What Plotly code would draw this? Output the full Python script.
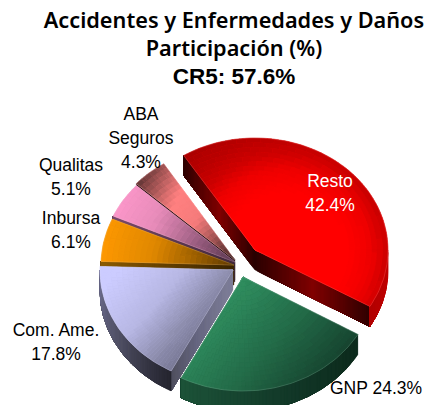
import math
import plotly.graph_objects as go

CATEGORIES = ["Resto", "GNP", "Com. Ame.", "Inbursa", "Qualitas", "ABA Seguros"]
SHARES = [42.4, 24.3, 17.8, 6.1, 5.1, 4.3]
TITLE_LINES = ["Accidentes y Enfermedades y Daños", "Participación (%)"]
CR5 = 57.6

# view geometry of the tilted pie
START = -32.4
RX, RY, DEPTH = 133, 114, 20
APEX = {"Resto": (255, 250), "GNP": (243, 277), "Com. Ame.": (233, 270),
        "Inbursa": (234, 265), "Qualitas": (235, 262), "ABA Seguros": (235, 260)}
RY_OF = {"Resto": 112}

# colour ramps: origin, vector (or radius for a radial ramp), stops
TOP = {
    "Resto": ((285, 255), 150, [(0, "#ff0000"), (.42, "#ff0000"), (.57, "#ee0000"), (.68, "#cc0000"),
                                (.8, "#b80000"), (1, "#a40000")]),
    "GNP": ((205, 285), (120, 110), [(0, "#359c69"), (.55, "#236b48"), (1, "#133a29")]),
    "Com. Ame.": ((120, 270), (90, 80), [(0, "#ccccff"), (.4, "#b8b8e4"), (.7, "#8c8cac"), (1, "#6a6a85")]),
    "Inbursa": ((100, 240), (135, 20), [(0, "#ff9900"), (.4, "#e08800"), (1, "#5c3900")]),
    "Qualitas": ((112, 200), (125, 50), [(0, "#ff99cc"), (.35, "#e88cba"), (1, "#5a3750")]),
    "ABA Seguros": ((137, 190), (100, 50), [(0, "#6b3a3a"), (.35, "#ff8080"), (.6, "#f57b7b"), (1, "#553030")]),
}
# stops run from apex to outer corner along a cut face
CUT = {
    "Resto": [(0, "#2a0000"), (.5, "#800000"), (1, "#300000")],
    "GNP": [(0, "#123828"), (1, "#1c5238")],
    "Com. Ame.": [(0, "#80809a"), (.6, "#666680"), (1, "#50505f")],
    "Inbursa": [(0, "#3a2400"), (1, "#8a5a00")],
    "Qualitas": [(0, "#40283a"), (1, "#7a4a6a")],
    "ABA Seguros": [(0, "#2a1515"), (1, "#2a1515")],
}
RIM = {
    "Resto": ((370, 320), (18, -60), [(0, "#b00000"), (1, "#c80000")]),
    "GNP": ((184, 380), (175, 0), [(0, "#1c5238"), (.6, "#123828"), (1, "#0c2a1c")]),
    "Com. Ame.": ((100, 280), (70, 105), [(0, "#6e6e90"), (.5, "#4e4e62"), (1, "#22222c")]),
    "Inbursa": ((100, 262), (135, 0), [(0, "#8a5a00"), (1, "#3a2400")]),
}


def hex2rgb(h):
    return tuple(int(h[i:i + 2], 16) for i in (1, 3, 5))


def from_stops(stops, t):
    t = round(max(0, min(1, t)) * 48) / 48
    for (a, ca), (b, cb) in zip(stops, stops[1:]):
        if t <= b:
            f = (t - a) / (b - a)
            ra, rb = hex2rgb(ca), hex2rgb(cb)
            return "#%02x%02x%02x" % tuple(round(p + (q - p) * f) for p, q in zip(ra, rb))
    return stops[-1][1]


def ramp(spec, x, y):
    (ox, oy), v, stops = spec
    if isinstance(v, tuple):
        t = ((x - ox) * v[0] + (y - oy) * v[1]) / (v[0] ** 2 + v[1] ** 2)
    else:
        t = math.hypot(x - ox, y - oy) / v
    return from_stops(stops, t)


def closed(poly):
    xs = [p[0] for p in poly] + [poly[0][0]]
    ys = [p[1] for p in poly] + [poly[0][1]]
    return xs, ys


def add_poly(fig, outline, col):
    xs, ys = closed(outline)
    fig.add_trace(go.Scatter(x=xs, y=ys, mode="lines", fill="toself", fillcolor=col,
                             line=dict(color=col, width=0.3), hoverinfo="skip", showlegend=False))


def add_cells(fig, cells, spec):
    groups = {}
    for poly in cells:
        cx = sum(p[0] for p in poly) / len(poly)
        cy = sum(p[1] for p in poly) / len(poly)
        groups.setdefault(ramp(spec, cx, cy), []).append(poly)
    for col, polys in groups.items():
        xs, ys = [], []
        for poly in polys:
            px, py = closed(poly)
            xs += px + [None]
            ys += py + [None]
        fig.add_trace(go.Scatter(x=xs, y=ys, mode="lines", fill="toself", fillcolor=col,
                                 line=dict(color=col, width=0.35), hoverinfo="skip", showlegend=False))


def add_strip(fig, edge, spec):
    """Extrude an edge downward; each colour run paints through to the strip's end,
    so that the next run overlaps it and no seam shows."""
    starts = []
    for i, (p, q) in enumerate(zip(edge, edge[1:])):
        col = ramp(spec, (p[0] + q[0]) / 2, (p[1] + q[1]) / 2 + DEPTH / 2)
        if not starts or starts[-1][0] != col:
            starts.append((col, i))
    for col, i in starts:
        pts = edge[i:]
        add_poly(fig, pts + [down(p) for p in reversed(pts)], col)


def pt(name, deg, frac=1.0):
    ax, ay = APEX[name]
    ry = RY_OF.get(name, RY)
    r = math.radians(deg)
    return (ax + RX * frac * math.sin(r), ay - ry * frac * math.cos(r))


def down(p):
    return (p[0], p[1] + DEPTH)


fig = go.Figure()

# angular extents from the shares
spans = {}
a = START
for name, share in zip(CATEGORIES, SHARES):
    spans[name] = (a, a + share * 3.6)
    a += share * 3.6

for name in ["ABA Seguros", "Qualitas", "Inbursa", "Com. Ame.", "Resto", "GNP"]:
    a0, a1 = spans[name]
    # cut faces, only where they look down
    for edge, sign in ((a0, 1), (a1, -1)):
        normal_y = -sign * math.sin(math.radians(edge))
        if normal_y <= 0 and name != "Resto":
            continue
        p0, p1 = pt(name, edge, 0), pt(name, edge, 1)
        spec = ((p0[0], p0[1] + DEPTH / 2), (p1[0] - p0[0], p1[1] - p0[1]), CUT[name])
        n = 60
        add_strip(fig, [pt(name, edge, i / n) for i in range(n + 1)], spec)
    # outer rim for the part facing the viewer
    lo, hi = max(a0, 90), min(a1, 270)
    if hi > lo:
        n = max(2, int((hi - lo) * 2))
        add_strip(fig, [pt(name, lo + (hi - lo) * i / n) for i in range(n + 1)], RIM[name])

    # top face
    n_a = max(6, int((a1 - a0) / 1.5))
    n_r = 24
    arc = [pt(name, a0 + (a1 - a0) * i / n_a) for i in range(n_a + 1)]
    add_poly(fig, [pt(name, a0, 0)] + arc, TOP[name][2][1][1])
    top = []
    for i in range(n_a):
        d0 = a0 + (a1 - a0) * i / n_a
        d1 = a0 + (a1 - a0) * (i + 1) / n_a
        for j in range(n_r):
            f0, f1 = j / n_r, (j + 1) / n_r
            top.append([pt(name, d0, f0), pt(name, d1, f0), pt(name, d1, f1), pt(name, d0, f1)])
    add_cells(fig, top, TOP[name])
    # faint highlight along the face edge
    ox, oy = closed([pt(name, a0, 0)] + arc)
    fig.add_trace(go.Scatter(x=ox, y=oy, mode="lines", line=dict(color="rgba(255,255,255,0.18)", width=0.7),
                             hoverinfo="skip", showlegend=False))

# slice labels
pct = {n: f"{s:.1f}%" for n, s in zip(CATEGORIES, SHARES)}
labels = [
    ("Resto", 330, 183, "#ffffff"), (pct["Resto"], 330, 207, "#ffffff"),
    (f"GNP {pct['GNP']}", 376, 390, "#000000"),
    ("Com. Ame.", 56, 332, "#000000"), (pct["Com. Ame."], 56, 356, "#000000"),
    ("Inbursa", 71, 220, "#000000"), (pct["Inbursa"], 71, 244, "#000000"),
    ("Qualitas", 71, 167, "#000000"), (pct["Qualitas"], 71, 191, "#000000"),
    ("ABA", 141, 116, "#000000"), ("Seguros", 141, 140, "#000000"), (pct["ABA Seguros"], 141, 164, "#000000"),
]
fig.add_trace(go.Scatter(
    x=[l[1] for l in labels], y=[l[2] for l in labels], text=[l[0] for l in labels],
    mode="text", textposition="middle center",
    textfont=dict(family="Liberation Sans", size=17.5, color=[l[3] for l in labels]),
    hoverinfo="skip", showlegend=False))

title_text = ("<br>".join(TITLE_LINES) +
              "<br><span style=\"font-family:'Liberation Sans';font-weight:700;font-size:22.5px\">"
              f"CR5: {CR5}%</span>")

fig.update_layout(
    width=425, height=405, margin=dict(l=0, r=0, t=0, b=0),
    paper_bgcolor="#ffffff", plot_bgcolor="#ffffff", showlegend=False,
    title=dict(text=title_text, x=234 / 425, xanchor="center", xref="paper",
               y=1 - 28 / 405, yanchor="top",
               font=dict(family="Noto Sans", size=21.7, color="#000000", weight=600)),
    xaxis=dict(range=[0, 425], visible=False, fixedrange=True),
    yaxis=dict(range=[405, 0], visible=False, fixedrange=True),
)
fig.write_html("out.html", config={"displayModeBar": False},
               post_script="document.body.style.margin='0';")
